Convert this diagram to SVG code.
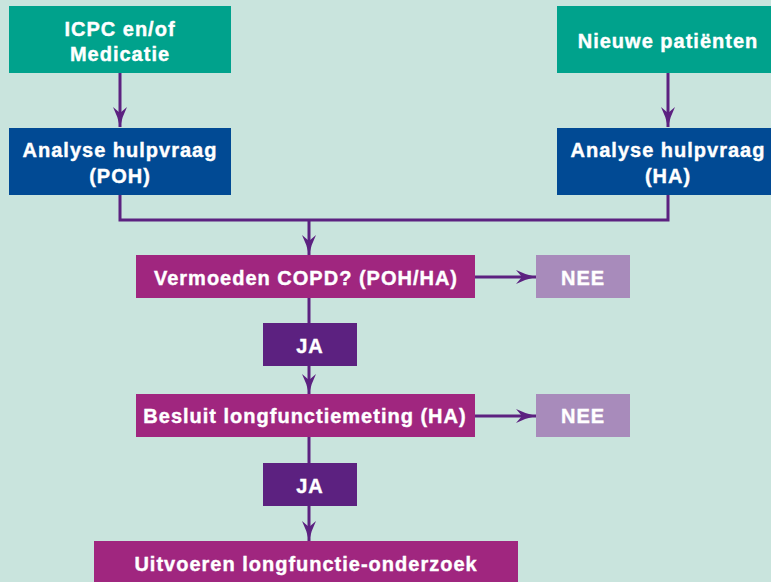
<svg xmlns="http://www.w3.org/2000/svg" width="771" height="582" viewBox="0 0 771 582">
<style>
.t{font-family:"Liberation Sans",Arial,sans-serif;font-weight:bold;font-size:20px;fill:#ffffff;stroke:#ffffff;stroke-width:0.4;text-anchor:middle;letter-spacing:1px}
.c{fill:none;stroke:#5C2180;stroke-width:3}
.green{fill:#00A28C}
.blue{fill:#014A94}
.mag{fill:#A0267F}
.nee{fill:#A88BBB}
.ja{fill:#5C2180}
</style>
<defs>
<marker id="ah" viewBox="0 0 20 14" refX="20" refY="7" markerWidth="20" markerHeight="14" markerUnits="userSpaceOnUse" orient="auto">
<path d="M20,7 Q10,5 0,0 L6,7 L0,14 Q10,9 20,7 Z" fill="#5C2180"/>
</marker>
</defs>
<rect width="771" height="582" fill="#C9E4DD"/>
<g id="connectors">
<path class="c" d="M120,73 V127" marker-end="url(#ah)"/>
<path class="c" d="M668,73 V127" marker-end="url(#ah)"/>
<path class="c" d="M120,195 V220 H668 V195"/>
<path class="c" d="M309,220 V255" marker-end="url(#ah)"/>
<path class="c" d="M475,277 H536" marker-end="url(#ah)"/>
<path class="c" d="M309,297 V323"/>
<path class="c" d="M309,366 V394" marker-end="url(#ah)"/>
<path class="c" d="M475,416 H536" marker-end="url(#ah)"/>
<path class="c" d="M309,437 V463"/>
<path class="c" d="M309,505 V541" marker-end="url(#ah)"/>
</g>
<g id="icpc">
<rect class="green" x="9" y="6" width="222" height="67"/>
<text class="t" x="120" y="36">ICPC en/of</text>
<text class="t" x="120" y="61">Medicatie</text>
</g>
<g id="nieuwe">
<rect class="green" x="557" y="6" width="222" height="67"/>
<text class="t" x="668" y="48">Nieuwe patiënten</text>
</g>
<g id="analyse-poh">
<rect class="blue" x="9" y="128" width="222" height="67"/>
<text class="t" x="120" y="157">Analyse hulpvraag</text>
<text class="t" x="120" y="183">(POH)</text>
</g>
<g id="analyse-ha">
<rect class="blue" x="557" y="128" width="222" height="67"/>
<text class="t" x="668" y="157">Analyse hulpvraag</text>
<text class="t" x="668" y="183">(HA)</text>
</g>
<g id="vermoeden">
<rect class="mag" x="136" y="255" width="339" height="43"/>
<text class="t" x="306" y="285">Vermoeden COPD? (POH/HA)</text>
</g>
<g id="nee1">
<rect class="nee" x="536" y="255" width="94" height="43"/>
<text class="t" x="583" y="285">NEE</text>
</g>
<g id="ja1">
<rect class="ja" x="263" y="323" width="94" height="43"/>
<text class="t" x="310" y="353">JA</text>
</g>
<g id="besluit">
<rect class="mag" x="136" y="394" width="339" height="43"/>
<text class="t" x="305" y="423">Besluit longfunctiemeting (HA)</text>
</g>
<g id="nee2">
<rect class="nee" x="536" y="394" width="94" height="43"/>
<text class="t" x="583" y="423">NEE</text>
</g>
<g id="ja2">
<rect class="ja" x="263" y="463" width="94" height="43"/>
<text class="t" x="310" y="493">JA</text>
</g>
<g id="uitvoeren">
<rect class="mag" x="94" y="541" width="424" height="45"/>
<text class="t" x="306" y="571">Uitvoeren longfunctie-onderzoek</text>
</g>
</svg>
